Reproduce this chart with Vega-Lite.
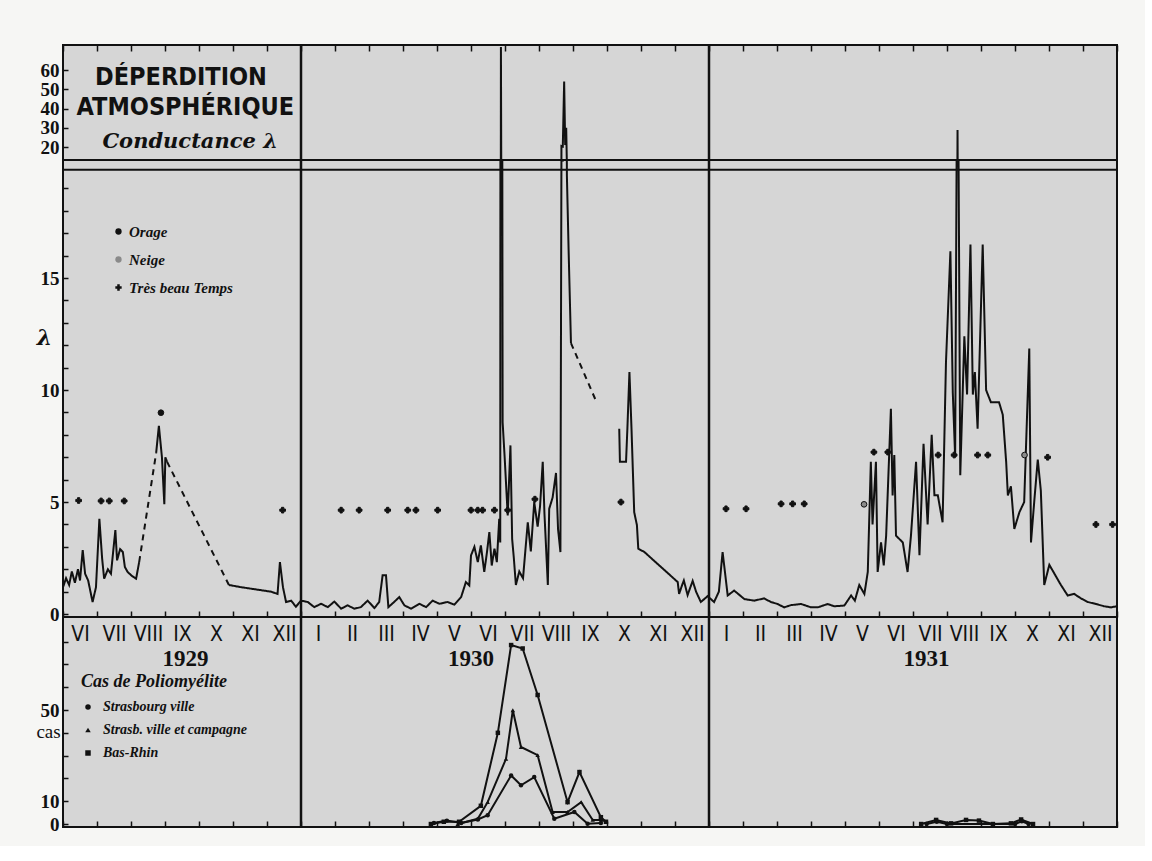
{
  "$schema": "https://vega.github.io/schema/vega-lite/v6.json",
  "background": "#f6f6f4",
  "padding": {"left": 34, "top": 42, "right": 10, "bottom": 10},
  "bounds": "flush",
  "spacing": 0,
  "config": {
    "view": {"stroke": "#111111", "strokeWidth": 2, "fill": "#d6d6d6"},
    "axis": {"domain": false, "grid": false, "tickColor": "#111111", "tickWidth": 1.5, "labelColor": "#111111", "titleColor": "#111111", "labelFlush": false, "labelOverlap": false},
    "font": "Liberation Serif"
  },
  "resolve": {
    "scale": {"x": "independent", "y": "independent", "shape": "independent", "fill": "independent", "strokeDash": "independent"},
    "legend": {"shape": "independent", "fill": "independent", "strokeDash": "independent"}
  },
  "datasets": {
    "lambda": [
      {"m":0.00,"v":1.2,"s":1,"t":"mesure"},{"m":0.09,"v":1.6,"s":1,"t":"mesure"},{"m":0.18,"v":1.3,"s":1,"t":"mesure"},{"m":0.26,"v":1.9,"s":1,"t":"mesure"},{"m":0.35,"v":1.4,"s":1,"t":"mesure"},{"m":0.44,"v":2.0,"s":1,"t":"mesure"},{"m":0.50,"v":1.5,"s":1,"t":"mesure"},{"m":0.58,"v":2.86,"s":1,"t":"mesure"},{"m":0.65,"v":1.8,"s":1,"t":"mesure"},{"m":0.74,"v":1.5,"s":1,"t":"mesure"},{"m":0.87,"v":0.54,"s":1,"t":"mesure"},{"m":0.97,"v":1.2,"s":1,"t":"mesure"},{"m":1.07,"v":4.25,"s":1,"t":"mesure"},{"m":1.15,"v":2.5,"s":1,"t":"mesure"},{"m":1.21,"v":1.58,"s":1,"t":"mesure"},{"m":1.32,"v":2.0,"s":1,"t":"mesure"},{"m":1.41,"v":1.8,"s":1,"t":"mesure"},{"m":1.54,"v":3.75,"s":1,"t":"mesure"},{"m":1.59,"v":2.4,"s":1,"t":"mesure"},{"m":1.68,"v":2.9,"s":1,"t":"mesure"},{"m":1.76,"v":2.77,"s":1,"t":"mesure"},{"m":1.82,"v":2.1,"s":1,"t":"mesure"},{"m":1.90,"v":1.88,"s":1,"t":"mesure"},{"m":2.03,"v":1.7,"s":1,"t":"mesure"},{"m":2.15,"v":1.58,"s":1,"t":"mesure"},{"m":2.24,"v":2.32,"s":1,"t":"mesure"},
      {"m":2.24,"v":2.32,"s":2,"t":"interpolation"},{"m":2.74,"v":7.2,"s":2,"t":"interpolation"},
      {"m":2.74,"v":7.2,"s":3,"t":"mesure"},{"m":2.82,"v":8.4,"s":3,"t":"mesure"},{"m":2.91,"v":7.0,"s":3,"t":"mesure"},{"m":2.98,"v":4.9,"s":3,"t":"mesure"},{"m":3.01,"v":7.0,"s":3,"t":"mesure"},{"m":3.06,"v":6.8,"s":3,"t":"mesure"},
      {"m":3.06,"v":6.8,"s":4,"t":"interpolation"},{"m":4.88,"v":1.3,"s":4,"t":"interpolation"},
      {"m":4.88,"v":1.3,"s":5,"t":"mesure"},{"m":5.24,"v":1.2,"s":5,"t":"mesure"},{"m":5.68,"v":1.1,"s":5,"t":"mesure"},{"m":6.12,"v":1.0,"s":5,"t":"mesure"},{"m":6.31,"v":0.9,"s":5,"t":"mesure"},{"m":6.38,"v":2.32,"s":5,"t":"mesure"},{"m":6.47,"v":1.2,"s":5,"t":"mesure"},{"m":6.56,"v":0.54,"s":5,"t":"mesure"},{"m":6.71,"v":0.6,"s":5,"t":"mesure"},{"m":6.85,"v":0.33,"s":5,"t":"mesure"},{"m":7.00,"v":0.6,"s":5,"t":"mesure"},{"m":7.20,"v":0.54,"s":5,"t":"mesure"},{"m":7.39,"v":0.31,"s":5,"t":"mesure"},{"m":7.59,"v":0.46,"s":5,"t":"mesure"},{"m":7.79,"v":0.31,"s":5,"t":"mesure"},{"m":7.98,"v":0.56,"s":5,"t":"mesure"},{"m":8.18,"v":0.24,"s":5,"t":"mesure"},{"m":8.37,"v":0.39,"s":5,"t":"mesure"},{"m":8.57,"v":0.24,"s":5,"t":"mesure"},{"m":8.76,"v":0.31,"s":5,"t":"mesure"},{"m":8.96,"v":0.6,"s":5,"t":"mesure"},{"m":9.16,"v":0.27,"s":5,"t":"mesure"},{"m":9.30,"v":0.54,"s":5,"t":"mesure"},{"m":9.40,"v":1.73,"s":5,"t":"mesure"},{"m":9.50,"v":1.73,"s":5,"t":"mesure"},{"m":9.57,"v":0.31,"s":5,"t":"mesure"},{"m":9.74,"v":0.54,"s":5,"t":"mesure"},{"m":9.89,"v":0.76,"s":5,"t":"mesure"},{"m":10.04,"v":0.39,"s":5,"t":"mesure"},{"m":10.24,"v":0.24,"s":5,"t":"mesure"},{"m":10.48,"v":0.46,"s":5,"t":"mesure"},{"m":10.68,"v":0.31,"s":5,"t":"mesure"},{"m":10.87,"v":0.6,"s":5,"t":"mesure"},{"m":11.07,"v":0.46,"s":5,"t":"mesure"},{"m":11.31,"v":0.54,"s":5,"t":"mesure"},{"m":11.51,"v":0.42,"s":5,"t":"mesure"},{"m":11.71,"v":0.76,"s":5,"t":"mesure"},{"m":11.85,"v":1.43,"s":5,"t":"mesure"},{"m":11.95,"v":1.28,"s":5,"t":"mesure"},{"m":12.00,"v":2.62,"s":5,"t":"mesure"},{"m":12.10,"v":3.0,"s":5,"t":"mesure"},{"m":12.20,"v":2.32,"s":5,"t":"mesure"},{"m":12.29,"v":3.07,"s":5,"t":"mesure"},{"m":12.39,"v":1.88,"s":5,"t":"mesure"},{"m":12.47,"v":2.77,"s":5,"t":"mesure"},{"m":12.54,"v":3.66,"s":5,"t":"mesure"},{"m":12.61,"v":2.17,"s":5,"t":"mesure"},{"m":12.69,"v":2.92,"s":5,"t":"mesure"},{"m":12.76,"v":2.32,"s":5,"t":"mesure"},{"m":12.83,"v":4.25,"s":5,"t":"mesure"},{"m":12.86,"v":3.2,"s":5,"t":"mesure"},{"m":12.88,"v":72,"s":5,"t":"mesure"},{"m":12.93,"v":8.57,"s":5,"t":"mesure"},{"m":12.99,"v":7.0,"s":5,"t":"mesure"},{"m":13.08,"v":4.4,"s":5,"t":"mesure"},{"m":13.16,"v":7.53,"s":5,"t":"mesure"},{"m":13.21,"v":3.36,"s":5,"t":"mesure"},{"m":13.26,"v":2.5,"s":5,"t":"mesure"},{"m":13.32,"v":1.3,"s":5,"t":"mesure"},{"m":13.42,"v":1.9,"s":5,"t":"mesure"},{"m":13.53,"v":1.6,"s":5,"t":"mesure"},{"m":13.67,"v":4.1,"s":5,"t":"mesure"},{"m":13.76,"v":2.8,"s":5,"t":"mesure"},{"m":13.86,"v":5.0,"s":5,"t":"mesure"},{"m":13.96,"v":3.9,"s":5,"t":"mesure"},{"m":14.03,"v":4.8,"s":5,"t":"mesure"},{"m":14.11,"v":6.8,"s":5,"t":"mesure"},{"m":14.16,"v":4.5,"s":5,"t":"mesure"},{"m":14.26,"v":1.3,"s":5,"t":"mesure"},{"m":14.30,"v":4.7,"s":5,"t":"mesure"},{"m":14.40,"v":5.2,"s":5,"t":"mesure"},{"m":14.50,"v":6.3,"s":5,"t":"mesure"},{"m":14.56,"v":3.8,"s":5,"t":"mesure"},{"m":14.63,"v":2.77,"s":5,"t":"mesure"},{"m":14.66,"v":20.5,"s":5,"t":"mesure"},{"m":14.70,"v":20.2,"s":5,"t":"mesure"},{"m":14.74,"v":54,"s":5,"t":"mesure"},{"m":14.77,"v":21,"s":5,"t":"mesure"},{"m":14.80,"v":30,"s":5,"t":"mesure"},{"m":14.82,"v":19.6,"s":5,"t":"mesure"},{"m":14.87,"v":16.3,"s":5,"t":"mesure"},{"m":14.94,"v":12.1,"s":5,"t":"mesure"},
      {"m":14.94,"v":12.1,"s":6,"t":"interpolation"},{"m":15.71,"v":9.4,"s":6,"t":"interpolation"},
      {"m":16.36,"v":8.27,"s":7,"t":"mesure"},{"m":16.38,"v":6.8,"s":7,"t":"mesure"},{"m":16.56,"v":6.8,"s":7,"t":"mesure"},{"m":16.60,"v":8.3,"s":7,"t":"mesure"},{"m":16.66,"v":10.8,"s":7,"t":"mesure"},{"m":16.72,"v":8.3,"s":7,"t":"mesure"},{"m":16.80,"v":4.55,"s":7,"t":"mesure"},{"m":16.88,"v":3.97,"s":7,"t":"mesure"},{"m":16.92,"v":2.92,"s":7,"t":"mesure"},{"m":17.10,"v":2.77,"s":7,"t":"mesure"},{"m":17.59,"v":2.1,"s":7,"t":"mesure"},{"m":18.08,"v":1.43,"s":7,"t":"mesure"},{"m":18.12,"v":0.9,"s":7,"t":"mesure"},{"m":18.21,"v":1.3,"s":7,"t":"mesure"},{"m":18.26,"v":1.5,"s":7,"t":"mesure"},{"m":18.37,"v":0.85,"s":7,"t":"mesure"},{"m":18.52,"v":1.48,"s":7,"t":"mesure"},{"m":18.62,"v":1.0,"s":7,"t":"mesure"},{"m":18.76,"v":0.54,"s":7,"t":"mesure"},{"m":18.96,"v":0.8,"s":7,"t":"mesure"},{"m":19.15,"v":0.54,"s":7,"t":"mesure"},{"m":19.29,"v":1.0,"s":7,"t":"mesure"},{"m":19.40,"v":2.77,"s":7,"t":"mesure"},{"m":19.55,"v":0.83,"s":7,"t":"mesure"},{"m":19.74,"v":1.05,"s":7,"t":"mesure"},{"m":20.04,"v":0.67,"s":7,"t":"mesure"},{"m":20.33,"v":0.6,"s":7,"t":"mesure"},{"m":20.62,"v":0.7,"s":7,"t":"mesure"},{"m":20.82,"v":0.54,"s":7,"t":"mesure"},{"m":21.02,"v":0.45,"s":7,"t":"mesure"},{"m":21.21,"v":0.3,"s":7,"t":"mesure"},{"m":21.41,"v":0.4,"s":7,"t":"mesure"},{"m":21.71,"v":0.45,"s":7,"t":"mesure"},{"m":22.00,"v":0.3,"s":7,"t":"mesure"},{"m":22.20,"v":0.3,"s":7,"t":"mesure"},{"m":22.49,"v":0.45,"s":7,"t":"mesure"},{"m":22.68,"v":0.35,"s":7,"t":"mesure"},{"m":22.98,"v":0.38,"s":7,"t":"mesure"},{"m":23.18,"v":0.83,"s":7,"t":"mesure"},{"m":23.29,"v":0.6,"s":7,"t":"mesure"},{"m":23.42,"v":1.3,"s":7,"t":"mesure"},{"m":23.57,"v":0.9,"s":7,"t":"mesure"},{"m":23.67,"v":1.88,"s":7,"t":"mesure"},{"m":23.76,"v":6.8,"s":7,"t":"mesure"},{"m":23.81,"v":4.0,"s":7,"t":"mesure"},{"m":23.91,"v":6.8,"s":7,"t":"mesure"},{"m":23.96,"v":1.88,"s":7,"t":"mesure"},{"m":24.06,"v":3.2,"s":7,"t":"mesure"},{"m":24.14,"v":2.17,"s":7,"t":"mesure"},{"m":24.21,"v":3.5,"s":7,"t":"mesure"},{"m":24.35,"v":9.17,"s":7,"t":"mesure"},{"m":24.40,"v":5.3,"s":7,"t":"mesure"},{"m":24.45,"v":7.1,"s":7,"t":"mesure"},{"m":24.50,"v":3.5,"s":7,"t":"mesure"},{"m":24.70,"v":3.2,"s":7,"t":"mesure"},{"m":24.84,"v":1.88,"s":7,"t":"mesure"},{"m":24.94,"v":3.5,"s":7,"t":"mesure"},{"m":25.09,"v":6.8,"s":7,"t":"mesure"},{"m":25.19,"v":2.63,"s":7,"t":"mesure"},{"m":25.31,"v":7.6,"s":7,"t":"mesure"},{"m":25.43,"v":4.0,"s":7,"t":"mesure"},{"m":25.55,"v":8.0,"s":7,"t":"mesure"},{"m":25.63,"v":5.3,"s":7,"t":"mesure"},{"m":25.73,"v":5.3,"s":7,"t":"mesure"},{"m":25.87,"v":4.1,"s":7,"t":"mesure"},{"m":25.97,"v":11.25,"s":7,"t":"mesure"},{"m":26.10,"v":16.2,"s":7,"t":"mesure"},{"m":26.17,"v":9.9,"s":7,"t":"mesure"},{"m":26.24,"v":7.0,"s":7,"t":"mesure"},{"m":26.31,"v":28.8,"s":7,"t":"mesure"},{"m":26.39,"v":6.2,"s":7,"t":"mesure"},{"m":26.51,"v":12.4,"s":7,"t":"mesure"},{"m":26.59,"v":9.8,"s":7,"t":"mesure"},{"m":26.69,"v":16.5,"s":7,"t":"mesure"},{"m":26.76,"v":9.8,"s":7,"t":"mesure"},{"m":26.82,"v":10.8,"s":7,"t":"mesure"},{"m":26.90,"v":8.27,"s":7,"t":"mesure"},{"m":27.05,"v":16.5,"s":7,"t":"mesure"},{"m":27.15,"v":10.0,"s":7,"t":"mesure"},{"m":27.29,"v":9.46,"s":7,"t":"mesure"},{"m":27.53,"v":9.46,"s":7,"t":"mesure"},{"m":27.64,"v":8.9,"s":7,"t":"mesure"},{"m":27.74,"v":6.8,"s":7,"t":"mesure"},{"m":27.79,"v":5.3,"s":7,"t":"mesure"},{"m":27.88,"v":5.7,"s":7,"t":"mesure"},{"m":27.98,"v":3.8,"s":7,"t":"mesure"},{"m":28.13,"v":4.55,"s":7,"t":"mesure"},{"m":28.27,"v":5.0,"s":7,"t":"mesure"},{"m":28.42,"v":11.85,"s":7,"t":"mesure"},{"m":28.47,"v":3.2,"s":7,"t":"mesure"},{"m":28.57,"v":5.1,"s":7,"t":"mesure"},{"m":28.67,"v":6.9,"s":7,"t":"mesure"},{"m":28.76,"v":5.5,"s":7,"t":"mesure"},{"m":28.86,"v":1.3,"s":7,"t":"mesure"},{"m":29.01,"v":2.2,"s":7,"t":"mesure"},{"m":29.16,"v":1.8,"s":7,"t":"mesure"},{"m":29.35,"v":1.3,"s":7,"t":"mesure"},{"m":29.55,"v":0.83,"s":7,"t":"mesure"},{"m":29.74,"v":0.9,"s":7,"t":"mesure"},{"m":29.94,"v":0.7,"s":7,"t":"mesure"},{"m":30.14,"v":0.54,"s":7,"t":"mesure"},{"m":30.38,"v":0.45,"s":7,"t":"mesure"},{"m":30.62,"v":0.35,"s":7,"t":"mesure"},{"m":30.82,"v":0.3,"s":7,"t":"mesure"},{"m":31.0,"v":0.35,"s":7,"t":"mesure"}
    ],
    "meteo": [
      {"m":0.46,"v":5.07,"temps":"Très beau Temps"},{"m":1.12,"v":5.05,"temps":"Très beau Temps"},{"m":1.36,"v":5.05,"temps":"Très beau Temps"},{"m":1.80,"v":5.05,"temps":"Très beau Temps"},{"m":2.88,"v":8.99,"temps":"Orage"},{"m":6.46,"v":4.64,"temps":"Très beau Temps"},
      {"m":8.18,"v":4.64,"temps":"Très beau Temps"},{"m":8.71,"v":4.64,"temps":"Très beau Temps"},{"m":9.55,"v":4.64,"temps":"Très beau Temps"},{"m":10.14,"v":4.64,"temps":"Très beau Temps"},{"m":10.38,"v":4.64,"temps":"Très beau Temps"},{"m":11.02,"v":4.64,"temps":"Très beau Temps"},{"m":12.00,"v":4.64,"temps":"Très beau Temps"},{"m":12.20,"v":4.64,"temps":"Très beau Temps"},{"m":12.34,"v":4.64,"temps":"Très beau Temps"},{"m":12.69,"v":4.64,"temps":"Très beau Temps"},{"m":13.08,"v":4.64,"temps":"Très beau Temps"},{"m":13.88,"v":5.13,"temps":"Très beau Temps"},{"m":16.41,"v":5.0,"temps":"Très beau Temps"},
      {"m":19.50,"v":4.7,"temps":"Très beau Temps"},{"m":20.09,"v":4.7,"temps":"Très beau Temps"},{"m":21.12,"v":4.92,"temps":"Très beau Temps"},{"m":21.46,"v":4.92,"temps":"Très beau Temps"},{"m":21.80,"v":4.92,"temps":"Très beau Temps"},{"m":23.56,"v":4.9,"temps":"Neige"},{"m":23.85,"v":7.23,"temps":"Très beau Temps"},{"m":24.26,"v":7.23,"temps":"Très beau Temps"},{"m":25.74,"v":7.1,"temps":"Très beau Temps"},{"m":26.21,"v":7.1,"temps":"Très beau Temps"},{"m":26.90,"v":7.1,"temps":"Très beau Temps"},{"m":27.20,"v":7.1,"temps":"Très beau Temps"},{"m":28.28,"v":7.1,"temps":"Neige"},{"m":28.96,"v":7.0,"temps":"Très beau Temps"},{"m":30.38,"v":4.0,"temps":"Très beau Temps"},{"m":30.87,"v":4.0,"temps":"Très beau Temps"}
    ],
    "polio": [
      {"m":10.82,"cas":0,"serie":"Bas-Rhin","a":1930},{"m":11.20,"cas":1,"serie":"Bas-Rhin","a":1930},{"m":11.65,"cas":1,"serie":"Bas-Rhin","a":1930},{"m":12.29,"cas":8,"serie":"Bas-Rhin","a":1930},{"m":12.79,"cas":40,"serie":"Bas-Rhin","a":1930},{"m":13.18,"cas":78.5,"serie":"Bas-Rhin","a":1930},{"m":13.52,"cas":77,"serie":"Bas-Rhin","a":1930},{"m":13.96,"cas":56.6,"serie":"Bas-Rhin","a":1930},{"m":14.84,"cas":9.6,"serie":"Bas-Rhin","a":1930},{"m":15.19,"cas":22.8,"serie":"Bas-Rhin","a":1930},{"m":15.82,"cas":3,"serie":"Bas-Rhin","a":1930},{"m":15.97,"cas":1,"serie":"Bas-Rhin","a":1930},
      {"m":25.24,"cas":0,"serie":"Bas-Rhin","a":1931},{"m":25.68,"cas":1.8,"serie":"Bas-Rhin","a":1931},{"m":26.12,"cas":0.3,"serie":"Bas-Rhin","a":1931},{"m":26.56,"cas":1.8,"serie":"Bas-Rhin","a":1931},{"m":26.94,"cas":1.5,"serie":"Bas-Rhin","a":1931},{"m":27.35,"cas":0,"serie":"Bas-Rhin","a":1931},{"m":27.88,"cas":0.3,"serie":"Bas-Rhin","a":1931},{"m":28.18,"cas":2,"serie":"Bas-Rhin","a":1931},{"m":28.53,"cas":0,"serie":"Bas-Rhin","a":1931},
      {"m":11.61,"cas":0,"serie":"Strasb. ville et campagne","a":1930},{"m":12.20,"cas":2.3,"serie":"Strasb. ville et campagne","a":1930},{"m":12.49,"cas":9.6,"serie":"Strasb. ville et campagne","a":1930},{"m":13.03,"cas":28.6,"serie":"Strasb. ville et campagne","a":1930},{"m":13.23,"cas":49.9,"serie":"Strasb. ville et campagne","a":1930},{"m":13.47,"cas":33.8,"serie":"Strasb. ville et campagne","a":1930},{"m":13.96,"cas":30.2,"serie":"Strasb. ville et campagne","a":1930},{"m":14.40,"cas":5.3,"serie":"Strasb. ville et campagne","a":1930},{"m":14.84,"cas":5.3,"serie":"Strasb. ville et campagne","a":1930},{"m":15.24,"cas":9.6,"serie":"Strasb. ville et campagne","a":1930},{"m":15.58,"cas":1.8,"serie":"Strasb. ville et campagne","a":1930},{"m":15.87,"cas":1.8,"serie":"Strasb. ville et campagne","a":1930},
      {"m":10.91,"cas":0.5,"serie":"Strasbourg ville","a":1930},{"m":11.29,"cas":1.5,"serie":"Strasbourg ville","a":1930},{"m":11.71,"cas":0.5,"serie":"Strasbourg ville","a":1930},{"m":12.20,"cas":2,"serie":"Strasbourg ville","a":1930},{"m":12.49,"cas":3.9,"serie":"Strasbourg ville","a":1930},{"m":13.18,"cas":21.3,"serie":"Strasbourg ville","a":1930},{"m":13.47,"cas":17,"serie":"Strasbourg ville","a":1930},{"m":13.86,"cas":20.6,"serie":"Strasbourg ville","a":1930},{"m":14.45,"cas":2.3,"serie":"Strasbourg ville","a":1930},{"m":15.04,"cas":5.3,"serie":"Strasbourg ville","a":1930},{"m":15.43,"cas":0.1,"serie":"Strasbourg ville","a":1930},{"m":15.82,"cas":0.5,"serie":"Strasbourg ville","a":1930},
      {"m":25.40,"cas":0,"serie":"Strasbourg ville","a":1931},{"m":25.70,"cas":1,"serie":"Strasbourg ville","a":1931},{"m":26.00,"cas":0,"serie":"Strasbourg ville","a":1931},{"m":28.00,"cas":0,"serie":"Strasbourg ville","a":1931},{"m":28.20,"cas":1.2,"serie":"Strasbourg ville","a":1931},{"m":28.40,"cas":0,"serie":"Strasbourg ville","a":1931}
    ],
    "limites": [{"m": 7}, {"m": 19}],
    "annees": [{"annee": "1929", "m": 3.6}, {"annee": "1930", "m": 12.0}, {"annee": "1931", "m": 25.4}]
  },
  "vconcat": [
    {
      "width": 1054,
      "height": 115,
      "layer": [
        {
          "data": {"name": "limites"},
          "mark": {"type": "rule", "color": "#111111", "strokeWidth": 2.5},
          "encoding": {
            "x": {"field": "m", "type": "quantitative", "scale": {"domain": [0, 31], "nice": false, "zero": false}, "axis": {"orient": "top", "values": [0,1,2,3,4,5,6,7,8,9,10,11,12,13,14,15,16,17,18,19,20,21,22,23,24,25,26,27,28,29,30,31], "labels": false, "tickSize": -6, "title": null}}
          }
        },
        {
          "data": {"name": "lambda"},
          "mark": {"type": "line", "color": "#111111", "strokeWidth": 2, "clip": true},
          "encoding": {
            "x": {"field": "m", "type": "quantitative", "scale": {"domain": [0, 31], "nice": false, "zero": false}, "axis": {"orient": "top", "values": [0,1,2,3,4,5,6,7,8,9,10,11,12,13,14,15,16,17,18,19,20,21,22,23,24,25,26,27,28,29,30,31], "labels": false, "tickSize": -6, "title": null}},
            "y": {"field": "v", "type": "quantitative", "scale": {"domain": [19.7, 20, 73], "range": [115, 102, 0], "nice": false, "zero": false}, "axis": {"values": [20, 30, 40, 50, 60], "tickSize": -5, "labelPadding": 9, "labelOverlap": false, "labelFont": "Liberation Serif", "labelFontWeight": "bold", "labelFontSize": 19, "title": null}},
            "detail": {"field": "s", "type": "nominal"},
            "strokeDash": {"field": "t", "type": "nominal", "scale": {"domain": ["mesure", "interpolation"], "range": [[1, 0], [6, 5]]}, "legend": null}
          }
        },
        {
          "data": {"values": [{"texte": "DÉPERDITION"}]},
          "mark": {"type": "text", "font": "DejaVu Sans Condensed", "fontWeight": "bold", "fontSize": 25, "color": "#111111", "baseline": "middle"},
          "encoding": {
            "x": {"datum": 3.47, "type": "quantitative", "scale": {"domain": [0, 31], "nice": false, "zero": false}, "axis": {"orient": "top", "values": [0,1,2,3,4,5,6,7,8,9,10,11,12,13,14,15,16,17,18,19,20,21,22,23,24,25,26,27,28,29,30,31], "labels": false, "tickSize": -6, "title": null}},
            "y": {"datum": 56.4, "type": "quantitative", "scale": {"domain": [19.7, 20, 73], "range": [115, 102, 0], "nice": false, "zero": false}, "axis": {"values": [20, 30, 40, 50, 60], "tickSize": -5, "labelPadding": 9, "labelOverlap": false, "labelFont": "Liberation Serif", "labelFontWeight": "bold", "labelFontSize": 19, "title": null}},
            "text": {"field": "texte"}
          }
        },
        {
          "data": {"values": [{"texte": "ATMOSPHÉRIQUE"}]},
          "mark": {"type": "text", "font": "DejaVu Sans Condensed", "fontWeight": "bold", "fontSize": 25, "color": "#111111", "baseline": "middle"},
          "encoding": {
            "x": {"datum": 3.6, "type": "quantitative", "scale": {"domain": [0, 31], "nice": false, "zero": false}, "axis": {"orient": "top", "values": [0,1,2,3,4,5,6,7,8,9,10,11,12,13,14,15,16,17,18,19,20,21,22,23,24,25,26,27,28,29,30,31], "labels": false, "tickSize": -6, "title": null}},
            "y": {"datum": 40.8, "type": "quantitative", "scale": {"domain": [19.7, 20, 73], "range": [115, 102, 0], "nice": false, "zero": false}, "axis": {"values": [20, 30, 40, 50, 60], "tickSize": -5, "labelPadding": 9, "labelOverlap": false, "labelFont": "Liberation Serif", "labelFontWeight": "bold", "labelFontSize": 19, "title": null}},
            "text": {"field": "texte"}
          }
        },
        {
          "data": {"values": [{"texte": "Conductance λ"}]},
          "mark": {"type": "text", "font": "DejaVu Serif", "fontWeight": "bold", "fontStyle": "italic", "fontSize": 21, "color": "#111111", "baseline": "middle"},
          "encoding": {
            "x": {"datum": 3.74, "type": "quantitative", "scale": {"domain": [0, 31], "nice": false, "zero": false}, "axis": {"orient": "top", "values": [0,1,2,3,4,5,6,7,8,9,10,11,12,13,14,15,16,17,18,19,20,21,22,23,24,25,26,27,28,29,30,31], "labels": false, "tickSize": -6, "title": null}},
            "y": {"datum": 22.6, "type": "quantitative", "scale": {"domain": [19.7, 20, 73], "range": [115, 102, 0], "nice": false, "zero": false}, "axis": {"values": [20, 30, 40, 50, 60], "tickSize": -5, "labelPadding": 9, "labelOverlap": false, "labelFont": "Liberation Serif", "labelFontWeight": "bold", "labelFontSize": 19, "title": null}},
            "text": {"field": "texte"}
          }
        }
      ]
    },
    {
      "width": 1054,
      "height": 457,
      "layer": [
        {
          "data": {"name": "limites"},
          "mark": {"type": "rule", "color": "#111111", "strokeWidth": 2.5},
          "encoding": {
            "x": {"field": "m", "type": "quantitative", "scale": {"domain": [0, 31], "nice": false, "zero": false}, "axis": null}
          }
        },
        {
          "data": {"values": [{}]},
          "mark": {"type": "rule", "color": "#111111", "strokeWidth": 2},
          "encoding": {
            "y": {"datum": 19.83, "type": "quantitative", "scale": {"domain": [-0.13, 20.27], "nice": false, "zero": false}, "axis": {"values": [0,1,2,3,4,5,6,7,8,9,10,11,12,13,14,15,16,17,18,19], "tickSize": -5, "labelPadding": 9, "labelOverlap": false, "labelExpr": "datum.value % 5 == 0 ? datum.label : ''", "labelFont": "Liberation Serif", "labelFontWeight": "bold", "labelFontSize": 19, "title": "λ", "titleAngle": 0, "titleX": -19, "titleY": 177, "titleAlign": "center", "titleBaseline": "middle", "titleFont": "DejaVu Serif", "titleFontStyle": "italic", "titleFontWeight": "bold", "titleFontSize": 22}}
          }
        },
        {
          "data": {"name": "lambda"},
          "mark": {"type": "line", "color": "#111111", "strokeWidth": 2, "clip": true},
          "encoding": {
            "x": {"field": "m", "type": "quantitative", "scale": {"domain": [0, 31], "nice": false, "zero": false}, "axis": null},
            "y": {"field": "v", "type": "quantitative", "scale": {"domain": [-0.13, 20.27], "nice": false, "zero": false}, "axis": {"values": [0,1,2,3,4,5,6,7,8,9,10,11,12,13,14,15,16,17,18,19], "tickSize": -5, "labelPadding": 9, "labelOverlap": false, "labelExpr": "datum.value % 5 == 0 ? datum.label : ''", "labelFont": "Liberation Serif", "labelFontWeight": "bold", "labelFontSize": 19, "title": "λ", "titleAngle": 0, "titleX": -19, "titleY": 177, "titleAlign": "center", "titleBaseline": "middle", "titleFont": "DejaVu Serif", "titleFontStyle": "italic", "titleFontWeight": "bold", "titleFontSize": 22}},
            "detail": {"field": "s", "type": "nominal"},
            "strokeDash": {"field": "t", "type": "nominal", "scale": {"domain": ["mesure", "interpolation"], "range": [[1, 0], [6, 5]]}, "legend": null}
          }
        },
        {
          "data": {"name": "meteo"},
          "mark": {"type": "point", "filled": true, "opacity": 1, "size": 32, "stroke": "#111111", "strokeWidth": 1},
          "encoding": {
            "x": {"field": "m", "type": "quantitative", "scale": {"domain": [0, 31], "nice": false, "zero": false}, "axis": null},
            "y": {"field": "v", "type": "quantitative", "scale": {"domain": [-0.13, 20.27], "nice": false, "zero": false}, "axis": {"values": [0,1,2,3,4,5,6,7,8,9,10,11,12,13,14,15,16,17,18,19], "tickSize": -5, "labelPadding": 9, "labelOverlap": false, "labelExpr": "datum.value % 5 == 0 ? datum.label : ''", "labelFont": "Liberation Serif", "labelFontWeight": "bold", "labelFontSize": 19, "title": "λ", "titleAngle": 0, "titleX": -19, "titleY": 177, "titleAlign": "center", "titleBaseline": "middle", "titleFont": "DejaVu Serif", "titleFontStyle": "italic", "titleFontWeight": "bold", "titleFontSize": 22}},
            "shape": {"field": "temps", "type": "nominal", "scale": {"domain": ["Orage", "Neige", "Très beau Temps"], "range": ["circle", "circle", "cross"]}, "legend": {"title": null, "orient": "none", "legendX": 48, "legendY": 64, "padding": 0, "labelFont": "Liberation Serif", "labelFontStyle": "italic", "labelFontWeight": "bold", "labelFontSize": 15, "labelColor": "#111111", "rowPadding": 12, "symbolSize": 40, "symbolOpacity": 1, "symbolStrokeColor": "#111111", "symbolStrokeWidth": 1, "labelOffset": 3}},
            "fill": {"field": "temps", "type": "nominal", "scale": {"domain": ["Orage", "Neige", "Très beau Temps"], "range": ["#111111", "#8a8a8a", "#111111"]}, "legend": {"title": null, "orient": "none", "legendX": 48, "legendY": 64, "padding": 0, "labelFont": "Liberation Serif", "labelFontStyle": "italic", "labelFontWeight": "bold", "labelFontSize": 15, "labelColor": "#111111", "rowPadding": 12, "symbolSize": 40, "symbolOpacity": 1, "symbolStrokeColor": "#111111", "symbolStrokeWidth": 1, "labelOffset": 3}}
          }
        }
      ]
    },
    {
      "width": 1054,
      "height": 210,
      "resolve": {"axis": {"x": "independent"}},
      "layer": [
        {
          "data": {"name": "limites"},
          "mark": {"type": "rule", "color": "#111111", "strokeWidth": 2.5},
          "encoding": {
            "x": {"field": "m", "type": "quantitative", "scale": {"domain": [0, 31], "nice": false, "zero": false}, "axis": {"orient": "top", "values": [0,1,2,3,4,5,6,7,8,9,10,11,12,13,14,15,16,17,18,19,20,21,22,23,24,25,26,27,28,29,30,31], "tickSize": 6, "labelPadding": -12, "labelBaseline": "top", "labelOffset": 17, "labelOverlap": false, "labelFlush": false, "labelExpr": "datum.value > 30.5 ? '' : ['VI','VII','VIII','IX','X','XI','XII','I','II','III','IV','V'][datum.value % 12]", "labelFont": "DejaVu Sans Condensed", "labelFontSize": 21, "title": null}}
          }
        },
        {
          "data": {"name": "polio"},
          "mark": {"type": "line", "color": "#111111", "strokeWidth": 2, "clip": true},
          "encoding": {
            "x": {"field": "m", "type": "quantitative", "scale": {"domain": [0, 31], "nice": false, "zero": false}, "axis": {"orient": "bottom", "values": [0,1,2,3,4,5,6,7,8,9,10,11,12,13,14,15,16,17,18,19,20,21,22,23,24,25,26,27,28,29,30,31], "labels": false, "tickSize": -6, "title": null}},
            "y": {"field": "cas", "type": "quantitative", "scale": {"domain": [-1.3, 90.8], "nice": false, "zero": false}, "axis": {"values": [0,10,20,30,40,50,60,70,80], "tickSize": -5, "labelPadding": 9, "labelOverlap": false, "labelExpr": "datum.value == 0 || datum.value == 10 || datum.value == 50 ? datum.label : ''", "labelFont": "Liberation Serif", "labelFontWeight": "bold", "labelFontSize": 19, "title": "cas", "titleAngle": 0, "titleX": -15, "titleY": 114, "titleAlign": "center", "titleBaseline": "middle", "titleFont": "Liberation Serif", "titleFontWeight": "normal", "titleFontSize": 19}},
            "detail": [{"field": "serie", "type": "nominal"}, {"field": "a", "type": "nominal"}]
          }
        },
        {
          "data": {"name": "polio"},
          "mark": {"type": "point", "filled": true, "opacity": 1, "size": 20, "color": "#111111"},
          "encoding": {
            "x": {"field": "m", "type": "quantitative", "scale": {"domain": [0, 31], "nice": false, "zero": false}, "axis": null},
            "y": {"field": "cas", "type": "quantitative", "scale": {"domain": [-1.3, 90.8], "nice": false, "zero": false}, "axis": {"values": [0,10,20,30,40,50,60,70,80], "tickSize": -5, "labelPadding": 9, "labelOverlap": false, "labelExpr": "datum.value == 0 || datum.value == 10 || datum.value == 50 ? datum.label : ''", "labelFont": "Liberation Serif", "labelFontWeight": "bold", "labelFontSize": 19, "title": "cas", "titleAngle": 0, "titleX": -15, "titleY": 114, "titleAlign": "center", "titleBaseline": "middle", "titleFont": "Liberation Serif", "titleFontWeight": "normal", "titleFontSize": 19}},
            "shape": {"field": "serie", "type": "nominal", "scale": {"domain": ["Strasbourg ville", "Strasb. ville et campagne", "Bas-Rhin"], "range": ["circle", "triangle-up", "square"]}, "legend": {"title": "Cas de Poliomyélite", "orient": "none", "legendX": 18, "legendY": 56, "padding": 0, "titleFont": "Liberation Serif", "titleFontStyle": "italic", "titleFontWeight": "bold", "titleFontSize": 18, "titleColor": "#111111", "titlePadding": 9, "labelFont": "Liberation Serif", "labelFontStyle": "italic", "labelFontWeight": "bold", "labelFontSize": 14, "labelColor": "#111111", "rowPadding": 9, "symbolSize": 30, "symbolOpacity": 1, "symbolFillColor": "#111111", "symbolStrokeColor": "#111111", "labelOffset": 8}}
          }
        },
        {
          "data": {"name": "annees"},
          "mark": {"type": "text", "font": "Liberation Serif", "fontWeight": "bold", "fontSize": 23, "color": "#111111", "baseline": "middle"},
          "encoding": {
            "x": {"field": "m", "type": "quantitative", "scale": {"domain": [0, 31], "nice": false, "zero": false}, "axis": null},
            "y": {"datum": 72.3, "type": "quantitative", "scale": {"domain": [-1.3, 90.8], "nice": false, "zero": false}, "axis": {"values": [0,10,20,30,40,50,60,70,80], "tickSize": -5, "labelPadding": 9, "labelOverlap": false, "labelExpr": "datum.value == 0 || datum.value == 10 || datum.value == 50 ? datum.label : ''", "labelFont": "Liberation Serif", "labelFontWeight": "bold", "labelFontSize": 19, "title": "cas", "titleAngle": 0, "titleX": -15, "titleY": 114, "titleAlign": "center", "titleBaseline": "middle", "titleFont": "Liberation Serif", "titleFontWeight": "normal", "titleFontSize": 19}},
            "text": {"field": "annee"}
          }
        }
      ]
    }
  ]
}
